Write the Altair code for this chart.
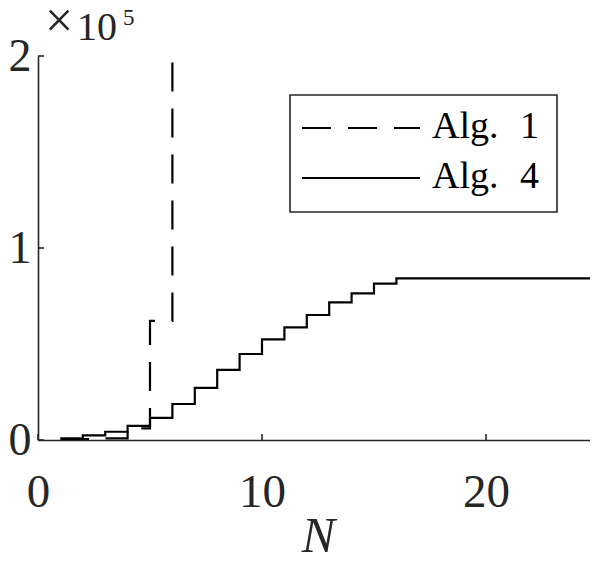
import altair as alt
import pandas as pd

# Data
n_alg1 = [1, 2, 3, 4, 5, 6]
v_alg1 = [300, 500, 800, 6100, 62000, 600000]

n_alg4 = list(range(1, 26))
v_alg4 = [900, 2400, 4300, 7400, 11500, 18750, 27200, 36500, 44800, 52400,
          58700, 65100, 71700, 76400, 81400, 84200, 84200, 84200, 84200, 84200,
          84200, 84200, 84200, 84200, 84200]

series_names = ["Alg. 1", "Alg. 4"]
dash_patterns = [[29, 17], [1, 0]]

x_ticks = [0, 10, 20]
y_ticks = [0, 100000, 200000]
exponent_base = "×"
exponent_ten = "10"
exponent_power = "5"

W, H = 560, 384
FONT = "Liberation Serif"
AX = "#262626"

df = pd.concat([
    pd.DataFrame({"N": n_alg1, "v": v_alg1, "alg": series_names[0]}),
    pd.DataFrame({"N": n_alg4, "v": v_alg4, "alg": series_names[1]}),
])

xscale = alt.Scale(domain=[0, 25], nice=False, zero=False)
yscale = alt.Scale(domain=[0, 200000], nice=False)
dscale = alt.Scale(domain=series_names, range=dash_patterns)

lines = alt.Chart(df).mark_line(interpolate="step-after", clip=True, color="black", strokeWidth=2.2).encode(
    x=alt.X("N:Q", scale=xscale,
            axis=alt.Axis(values=x_ticks, title="N", tickSize=0, grid=False, labelFlush=False,
                          labelFontSize=47, labelFont=FONT, labelColor=AX,
                          labelPadding=29, domainColor=AX, domainWidth=1.6,
                          titleFont=FONT, titleFontSize=50, titleFontStyle="italic",
                          titleFontWeight="normal", titleColor=AX,
                          titleBaseline="alphabetic", titleY=111)),
    y=alt.Y("v:Q", scale=yscale,
            axis=alt.Axis(values=y_ticks, title=None, tickSize=0, grid=False, labelFlush=False,
                          labelExpr="datum.value / 100000",
                          labelFontSize=46, labelFont=FONT, labelColor=AX,
                          labelPadding=7, domainColor=AX, domainWidth=1.6)),
    strokeDash=alt.StrokeDash("alg:N", scale=dscale, legend=None),
    order="N:Q",
)

xt = pd.DataFrame({"t": x_ticks})
yt = pd.DataFrame({"t": y_ticks})
xtick = alt.Chart(xt).mark_rule(color=AX, strokeWidth=1.6).encode(
    x=alt.X("t:Q", scale=xscale), y=alt.value(H), y2=alt.value(H - 6))
ytick = alt.Chart(yt).mark_rule(color=AX, strokeWidth=1.6).encode(
    y=alt.Y("t:Q", scale=yscale), x=alt.value(0), x2=alt.value(6))


def txt(s, size, x, y, color=AX):
    return alt.Chart(pd.DataFrame({"t": [s]})).mark_text(
        font=FONT, fontSize=size, color=color, align="left", baseline="alphabetic"
    ).encode(text="t:N", x=alt.value(x), y=alt.value(y))


# exponent annotation  (×10^5)
expo = [txt(exponent_base, 50, 7, -19), txt(exponent_ten, 40, 39, -16), txt(exponent_power, 23, 85, -31)]

# legend (box, symbols, labels)
LX, LY, LW, LH = 252, 39, 267, 117
box = alt.Chart(pd.DataFrame({"a": [0]})).mark_rect(
    fill="white", stroke=AX, strokeWidth=1.6
).encode(x=alt.value(LX), x2=alt.value(LX + LW), y=alt.value(LY), y2=alt.value(LY + LH))

leg_layers = []
for i, name in enumerate(series_names):
    ry = LY + 33 + 50 * i
    sym = alt.Chart(pd.DataFrame({"alg": [name]})).mark_rule(color="black", strokeWidth=2.2).encode(
        x=alt.value(LX + 12), x2=alt.value(LX + 130), y=alt.value(ry),
        strokeDash=alt.StrokeDash("alg:N", scale=alt.Scale(domain=series_names, range=[[30, 16], [1, 0]]), legend=None))
    word, num = name.split(" ")
    leg_layers += [sym,
                   txt(word, 38, LX + 142, ry + 10, "black"),
                   txt(num, 38, LX + 230, ry + 10, "black")]

chart = alt.layer(lines, xtick, ytick, *expo, box, *leg_layers).properties(
    width=W, height=H,
    autosize=alt.AutoSizeParams(type="none"),
    padding={"left": 30, "top": 48, "right": -8, "bottom": 113},
).configure_view(stroke=None)

chart.save("out.html", embed_options={"renderer": "svg", "actions": False})
